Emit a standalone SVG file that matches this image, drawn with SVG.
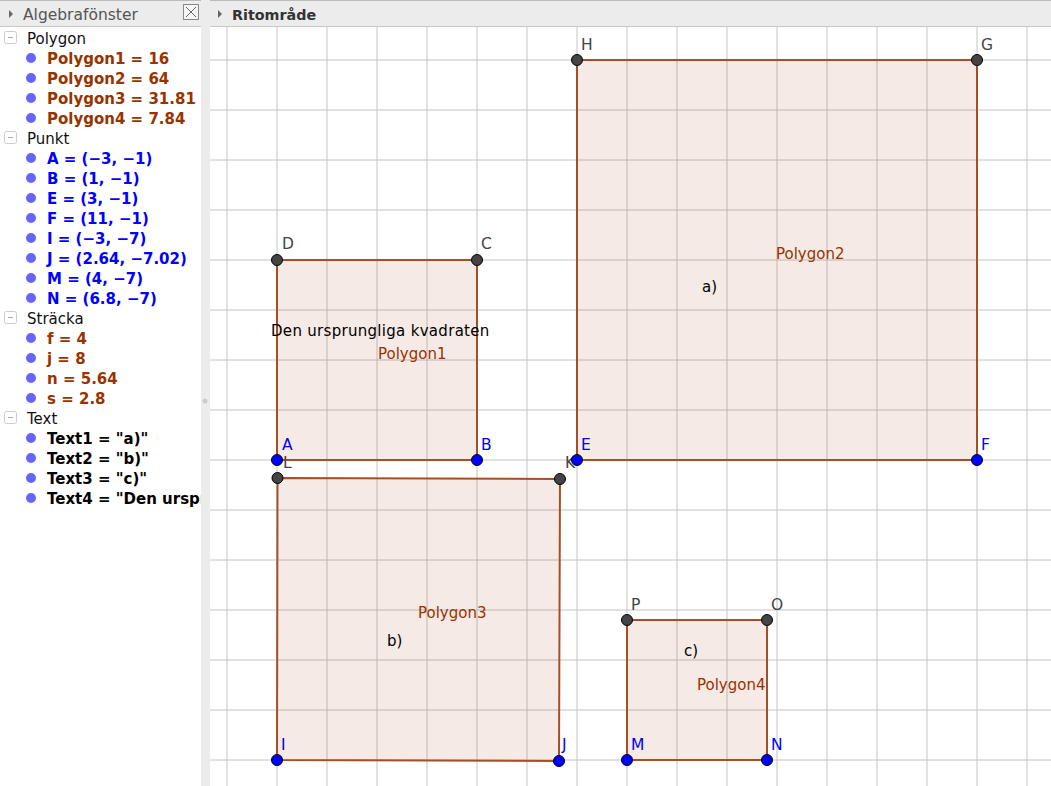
<svg xmlns="http://www.w3.org/2000/svg" width="1051" height="786" viewBox="0 0 1051 786">
<style>
text{font-family:"DejaVu Sans","Liberation Sans",sans-serif;font-size:15px}
.hd{fill:#555;font-size:15.5px}
.cat{fill:#111}
.it{font-weight:bold}
.br{fill:#993300}
.bl{fill:#0000ff}
.bk{fill:#000}
.grid line{stroke:#c4c4c4;stroke-width:1}
.poly{fill:#993300;fill-opacity:0.1;stroke:#a54f27;stroke-width:2}
.pg{fill:#444;stroke:#000;stroke-width:1}
.pb{fill:#0000ff;stroke:#000;stroke-width:1}
.lg{fill:#444;font-size:15.5px}
.lb{fill:#0000ff;font-size:15.5px}
.plab{fill:#993300}
.txt{fill:#000}
.bul{fill:#6666ff}
.mbox{fill:#fff;stroke:#ccc}
</style>
<rect x="0" y="0" width="1051" height="786" fill="#fff"/>
<g id="grid" class="grid">
<line x1="227" y1="26" x2="227" y2="786"/><line x1="277" y1="26" x2="277" y2="786"/><line x1="327" y1="26" x2="327" y2="786"/><line x1="377" y1="26" x2="377" y2="786"/><line x1="427" y1="26" x2="427" y2="786"/><line x1="477" y1="26" x2="477" y2="786"/><line x1="527" y1="26" x2="527" y2="786"/><line x1="577" y1="26" x2="577" y2="786"/><line x1="627" y1="26" x2="627" y2="786"/><line x1="677" y1="26" x2="677" y2="786"/><line x1="727" y1="26" x2="727" y2="786"/><line x1="777" y1="26" x2="777" y2="786"/><line x1="827" y1="26" x2="827" y2="786"/><line x1="877" y1="26" x2="877" y2="786"/><line x1="927" y1="26" x2="927" y2="786"/><line x1="977" y1="26" x2="977" y2="786"/><line x1="1027" y1="26" x2="1027" y2="786"/>
<line x1="210" y1="60" x2="1051" y2="60"/><line x1="210" y1="110" x2="1051" y2="110"/><line x1="210" y1="160" x2="1051" y2="160"/><line x1="210" y1="210" x2="1051" y2="210"/><line x1="210" y1="260" x2="1051" y2="260"/><line x1="210" y1="310" x2="1051" y2="310"/><line x1="210" y1="360" x2="1051" y2="360"/><line x1="210" y1="410" x2="1051" y2="410"/><line x1="210" y1="460" x2="1051" y2="460"/><line x1="210" y1="510" x2="1051" y2="510"/><line x1="210" y1="560" x2="1051" y2="560"/><line x1="210" y1="610" x2="1051" y2="610"/><line x1="210" y1="660" x2="1051" y2="660"/><line x1="210" y1="710" x2="1051" y2="710"/><line x1="210" y1="760" x2="1051" y2="760"/>
</g>
<g id="polygon1"><polygon class="poly" points="277,460 477,460 477,260 277,260"/><text x="378" y="359" class="plab">Polygon1</text></g>
<g id="polygon2"><polygon class="poly" points="577,460 977,460 977,60 577,60"/><text x="776" y="259" class="plab">Polygon2</text></g>
<g id="polygon3"><polygon class="poly" points="277,760 559,761 560,479 277.5,478"/><text x="418" y="618" class="plab">Polygon3</text></g>
<g id="polygon4"><polygon class="poly" points="627,760 767,760 767,620 627,620"/><text x="697" y="690" class="plab">Polygon4</text></g>
<g id="text4"><text x="271" y="336" class="txt" style="letter-spacing:0.3px">Den ursprungliga kvadraten</text></g>
<g id="text1"><text x="702" y="292" class="txt">a)</text></g>
<g id="text2"><text x="387" y="646" class="txt">b)</text></g>
<g id="text3"><text x="684" y="656" class="txt">c)</text></g>
<g id="pD"><circle cx="277" cy="260" r="5.5" class="pg"/><text x="282" y="249" class="lg">D</text></g>
<g id="pC"><circle cx="477" cy="260" r="5.5" class="pg"/><text x="481" y="249" class="lg">C</text></g>
<g id="pH"><circle cx="577" cy="60" r="5.5" class="pg"/><text x="581" y="50" class="lg">H</text></g>
<g id="pG"><circle cx="977" cy="60" r="5.5" class="pg"/><text x="981" y="50" class="lg">G</text></g>
<g id="pL"><circle cx="277.5" cy="478" r="5.5" class="pg"/><text x="283" y="468" class="lg">L</text></g>
<g id="pK"><circle cx="560" cy="479" r="5.5" class="pg"/><text x="565" y="468" class="lg">K</text></g>
<g id="pP"><circle cx="627" cy="620" r="5.5" class="pg"/><text x="631" y="610" class="lg">P</text></g>
<g id="pO"><circle cx="767" cy="620" r="5.5" class="pg"/><text x="771" y="610" class="lg">O</text></g>
<g id="pA"><circle cx="277" cy="460" r="5.5" class="pb"/><text x="282" y="450" class="lb">A</text></g>
<g id="pB"><circle cx="477" cy="460" r="5.5" class="pb"/><text x="481" y="450" class="lb">B</text></g>
<g id="pE"><circle cx="577" cy="460" r="5.5" class="pb"/><text x="581" y="450" class="lb">E</text></g>
<g id="pF"><circle cx="977" cy="460" r="5.5" class="pb"/><text x="981" y="450" class="lb">F</text></g>
<g id="pI"><circle cx="277" cy="760" r="5.5" class="pb"/><text x="281" y="750" class="lb">I</text></g>
<g id="pJ"><circle cx="559" cy="761" r="5.5" class="pb"/><text x="562" y="750" class="lb">J</text></g>
<g id="pM"><circle cx="627" cy="760" r="5.5" class="pb"/><text x="631" y="750" class="lb">M</text></g>
<g id="pN"><circle cx="767" cy="760" r="5.5" class="pb"/><text x="771" y="750" class="lb">N</text></g>
<g id="connectors"></g>
<g id="algebra-panel">
<rect x="0" y="26" width="201" height="760" fill="#fff"/>
<rect x="201" y="0" width="9" height="786" fill="#ececec"/>
<circle cx="205" cy="401" r="2.5" fill="#ccc"/>
<g class="mb"><rect x="4.5" y="31.5" width="12" height="12" rx="2" class="mbox"/><line x1="8" y1="37.5" x2="13" y2="37.5" stroke="#aaa"/></g>
<g class="mb"><rect x="4.5" y="131.5" width="12" height="12" rx="2" class="mbox"/><line x1="8" y1="137.5" x2="13" y2="137.5" stroke="#aaa"/></g>
<g class="mb"><rect x="4.5" y="311.5" width="12" height="12" rx="2" class="mbox"/><line x1="8" y1="317.5" x2="13" y2="317.5" stroke="#aaa"/></g>
<g class="mb"><rect x="4.5" y="411.5" width="12" height="12" rx="2" class="mbox"/><line x1="8" y1="417.5" x2="13" y2="417.5" stroke="#aaa"/></g>
<text x="27" y="44" class="cat">Polygon</text>
<text x="27" y="144" class="cat">Punkt</text>
<text x="27" y="324" class="cat">Sträcka</text>
<text x="27" y="424" class="cat">Text</text>
<g class="bul">
<circle cx="31" cy="58" r="5"/><circle cx="31" cy="78" r="5"/><circle cx="31" cy="98" r="5"/><circle cx="31" cy="118" r="5"/>
<circle cx="31" cy="158" r="5"/><circle cx="31" cy="178" r="5"/><circle cx="31" cy="198" r="5"/><circle cx="31" cy="218" r="5"/><circle cx="31" cy="238" r="5"/><circle cx="31" cy="258" r="5"/><circle cx="31" cy="278" r="5"/><circle cx="31" cy="298" r="5"/>
<circle cx="31" cy="338" r="5"/><circle cx="31" cy="358" r="5"/><circle cx="31" cy="378" r="5"/><circle cx="31" cy="398" r="5"/>
<circle cx="31" cy="438" r="5"/><circle cx="31" cy="458" r="5"/><circle cx="31" cy="478" r="5"/><circle cx="31" cy="498" r="5"/>
</g>
<text x="47" y="64" class="it br">Polygon1 = 16</text>
<text x="47" y="84" class="it br">Polygon2 = 64</text>
<text x="47" y="104" class="it br">Polygon3 = 31.81</text>
<text x="47" y="124" class="it br">Polygon4 = 7.84</text>
<text x="47" y="164" class="it bl">A = (−3, −1)</text>
<text x="47" y="184" class="it bl">B = (1, −1)</text>
<text x="47" y="204" class="it bl">E = (3, −1)</text>
<text x="47" y="224" class="it bl">F = (11, −1)</text>
<text x="47" y="244" class="it bl">I = (−3, −7)</text>
<text x="47" y="264" class="it bl">J = (2.64, −7.02)</text>
<text x="47" y="284" class="it bl">M = (4, −7)</text>
<text x="47" y="304" class="it bl">N = (6.8, −7)</text>
<text x="47" y="344" class="it br">f = 4</text>
<text x="47" y="364" class="it br">j = 8</text>
<text x="47" y="384" class="it br">n = 5.64</text>
<text x="47" y="404" class="it br">s = 2.8</text>
<svg x="0" y="0" width="201" height="786">
<text x="47" y="444" class="it bk">Text1 = "a)"</text>
<text x="47" y="464" class="it bk">Text2 = "b)"</text>
<text x="47" y="484" class="it bk">Text3 = "c)"</text>
<text x="47" y="504" class="it bk">Text4 = "Den urspr</text>
</svg>
</g>
<g id="headers">
<rect x="0" y="0" width="1051" height="26" fill="#ececec"/>
<line x1="0" y1="0.5" x2="1051" y2="0.5" stroke="#bbb"/>
<line x1="0" y1="26.5" x2="201" y2="26.5" stroke="#c8c8c8"/>
<line x1="210" y1="26.5" x2="1051" y2="26.5" stroke="#c8c8c8"/>
<rect x="201" y="0" width="9" height="26" fill="#ececec"/>
<polygon points="9,10 13,14 9,18" fill="#666"/>
<text x="23" y="20" class="hd">Algebrafönster</text>
<rect x="183.5" y="4.5" width="15" height="15" fill="#f5f5f5" stroke="#888"/>
<line x1="186" y1="7" x2="196" y2="17" stroke="#666"/><line x1="196" y1="7" x2="186" y2="17" stroke="#666"/>
<polygon points="218,10 222,14 218,18" fill="#666"/>
<text x="232" y="20" style="font-weight:bold;font-size:14.3px;fill:#333">Ritområde</text>
</g>
</svg>
